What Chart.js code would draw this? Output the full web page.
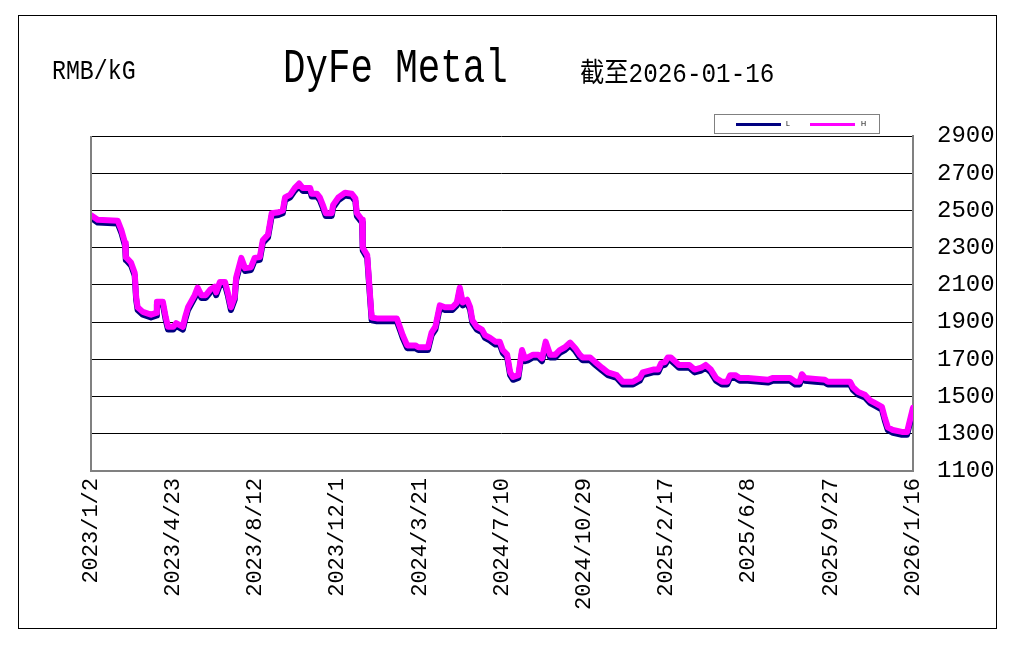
<!DOCTYPE html>
<html>
<head>
<meta charset="utf-8">
<script src="https://cdn.jsdelivr.net/npm/chart.js@4/dist/chart.umd.min.js"></script>
<style>
  html, body { margin: 0; padding: 0; background: #fff; }
  #wrap { position: relative; width: 1011px; height: 645px; overflow: hidden; }
  #frame { position: absolute; left: 18px; top: 15px; width: 979px; height: 614px; border: 1px solid #000; box-sizing: border-box; }
  canvas { position: absolute; left: 0; top: 0; }
  .txt { position: absolute; font-family: "Liberation Mono", "Noto Sans CJK SC", monospace; color: #000; white-space: nowrap; transform-origin: 0 0; }
  #legend { position: absolute; left: 714px; top: 114px; width: 166px; height: 20px; border: 1px solid #808080; box-sizing: border-box; background: #fff; }
  .lgline { position: absolute; top: 8px; height: 3px; width: 45px; }
  .lgtxt { position: absolute; top: 4px; font-family: "Liberation Sans", sans-serif; font-size: 7px; line-height: 10px; color: #000; }
</style>
</head>
<body>
<div id="wrap">
  <canvas id="c" width="1011" height="645"></canvas>
  <div id="frame"></div>
  <div class="txt" id="unit" style="left:52px; top:59px; font-size:27px; line-height:27px; transform:scaleX(0.86);">RMB/kG</div>
  <div class="txt" id="title" style="left:283px; top:45px; font-size:48px; line-height:48px; transform:scaleX(0.78);">DyFe Metal</div>
  <div class="txt" id="asof" style="left:580px; top:62px; font-size:27px; line-height:27px; transform:scaleX(0.9);">截至2026-01-16</div>
  <div id="legend">
    <div class="lgline" style="left:21px; background:#000080;"></div>
    <div class="lgtxt" style="left:71px;">L</div>
    <div class="lgline" style="left:95px; background:#ff00ff;"></div>
    <div class="lgtxt" style="left:146px;">H</div>
  </div>
</div>
<script>
// Day offsets counted from 2023-01-02
const days = [
  0,9,36,41,46,47,54,59,61,63,
  70,81,88,89,97,101,104,111,115,124,
  127,131,140,144,149,155,161,167,169,174,
  181,185,189,194,196,203,208,216,221,228,
  232,239,244,253,259,262,269,275,281,286,
  296,298,305,309,313,317,325,327,334,343,
  352,357,359,366,367,373,377,379,386,413,
  417,421,427,438,442,455,460,465,471,478,
  488,494,498,502,508,512,515,521,528,532,
  539,546,552,556,562,566,570,577,582,586,
  590,597,604,609,614,620,627,633,640,647,
  654,660,664,674,681,690,698,710,718,732,
  741,745,759,766,770,775,779,783,787,794,
  808,815,824,830,837,844,852,859,863,870,
  876,887,914,921,944,951,957,960,964,978,
  991,995,1025,1029,1036,1045,1052,1059,1068,1072,
  1076,1083,1095,1102,1106,1110
];
const hPrice = [
  2475,2450,2445,2395,2325,2250,2220,2165,2035,1980,
  1955,1940,1950,2010,2010,1925,1875,1875,1895,1875,
  1925,1980,2045,2085,2045,2045,2075,2090,2060,2115,
  2115,2055,1980,2035,2140,2245,2190,2195,2245,2250,
  2340,2370,2485,2490,2500,2570,2585,2620,2645,2620,
  2620,2590,2590,2570,2530,2485,2485,2530,2570,2595,
  2590,2565,2485,2450,2300,2260,2035,1925,1920,1920,
  1875,1830,1775,1775,1765,1765,1845,1875,1990,1980,
  1980,2005,2085,2005,2020,1980,1910,1875,1860,1830,
  1815,1795,1795,1750,1725,1630,1605,1615,1750,1705,
  1710,1725,1725,1705,1795,1725,1725,1750,1765,1790,
  1760,1725,1710,1710,1685,1655,1630,1615,1580,1580,
  1600,1630,1645,1645,1680,1685,1710,1710,1695,1670,
  1670,1645,1655,1670,1645,1600,1580,1580,1615,1615,
  1600,1600,1590,1600,1600,1580,1580,1620,1600,1595,
  1590,1580,1580,1550,1525,1510,1480,1465,1445,1385,
  1335,1320,1310,1310,1375,1440
];
const lPrice = [
  2460,2435,2430,2380,2310,2235,2205,2150,2020,1965,
  1940,1925,1935,1995,1995,1910,1860,1860,1880,1860,
  1910,1965,2030,2070,2030,2030,2060,2075,2045,2100,
  2100,2040,1965,2020,2125,2230,2175,2180,2230,2235,
  2325,2355,2470,2475,2485,2555,2570,2605,2630,2605,
  2605,2575,2575,2555,2515,2470,2470,2515,2555,2580,
  2575,2550,2470,2435,2285,2245,2020,1910,1905,1905,
  1860,1815,1760,1760,1750,1750,1830,1860,1975,1965,
  1965,1990,2070,1990,2005,1965,1895,1860,1845,1815,
  1800,1780,1780,1735,1710,1615,1590,1600,1735,1690,
  1695,1710,1710,1690,1780,1710,1710,1735,1750,1775,
  1745,1710,1695,1695,1670,1640,1615,1600,1565,1565,
  1585,1615,1630,1630,1665,1670,1695,1695,1680,1655,
  1655,1630,1640,1655,1630,1585,1565,1565,1600,1600,
  1585,1585,1575,1585,1585,1565,1565,1605,1585,1580,
  1575,1565,1565,1535,1510,1495,1465,1450,1430,1370,
  1320,1305,1295,1295,1360,1425
];
const tickDays = [0,111,222,333,444,555,666,777,888,999,1110];
const tickLabels = ["2023/1/2","2023/4/23","2023/8/12","2023/12/1","2024/3/21","2024/7/10","2024/10/29","2025/2/17","2025/6/8","2025/9/27","2026/1/16"];
const yTicks = [1100,1300,1500,1700,1900,2100,2300,2500,2700,2900];

const leftBorder = {
  id: 'leftBorder',
  afterDraw(chart) {
    const {ctx, chartArea} = chart;
    ctx.save();
    ctx.strokeStyle = '#808080';
    ctx.lineWidth = 2;
    ctx.beginPath();
    ctx.moveTo(chartArea.left, chartArea.top);
    ctx.lineTo(chartArea.left, chartArea.bottom + 1);
    ctx.stroke();
    ctx.restore();
  }
};

new Chart(document.getElementById('c'), {
  type: 'line',
  data: {
    datasets: [
      { label: 'H', data: days.map((d, i) => ({x: d, y: hPrice[i]})), borderColor: '#ff00ff', backgroundColor: '#ff00ff', borderWidth: 6, pointRadius: 0, tension: 0, borderJoinStyle: 'round', borderCapStyle: 'round' },
      { label: 'L', data: days.map((d, i) => ({x: d, y: lPrice[i]})), borderColor: '#000080', backgroundColor: '#000080', borderWidth: 6, pointRadius: 0, tension: 0, borderJoinStyle: 'round', borderCapStyle: 'round' }
    ]
  },
  options: {
    responsive: false,
    animation: false,
    layout: { padding: { left: 91, top: 136, right: 10, bottom: 24 } },
    plugins: { legend: { display: false }, tooltip: { enabled: false } },
    scales: {
      x: {
        type: 'linear',
        position: 'bottom',
        min: 0,
        max: 1110,
        afterBuildTicks(scale) { scale.ticks = tickDays.map(v => ({value: v})); },
        afterFit(scale) { scale.height = 150; },
        grid: { display: false, drawTicks: false },
        border: { display: true, color: '#808080', width: 2 },
        ticks: {
          autoSkip: false,
          minRotation: 90,
          maxRotation: 90,
          padding: 7,
          color: '#000',
          font: { family: 'Liberation Mono', size: 22 },
          callback(value) { const i = tickDays.indexOf(value); return i >= 0 ? tickLabels[i] : ''; }
        }
      },
      y: {
        position: 'right',
        min: 1100,
        max: 2900,
        afterBuildTicks(scale) { scale.ticks = yTicks.map(v => ({value: v})); },
        afterFit(scale) { scale.width = 88; },
        grid: { color: '#000', lineWidth: 1, drawTicks: false },
        border: { display: true, color: '#808080', width: 2 },
        ticks: {
          padding: 24,
          color: '#000',
          font: { family: 'Liberation Mono', size: 24 },
          callback(value) { return String(value); }
        }
      }
    }
  },
  plugins: [leftBorder]
});
</script>
</body>
</html>
